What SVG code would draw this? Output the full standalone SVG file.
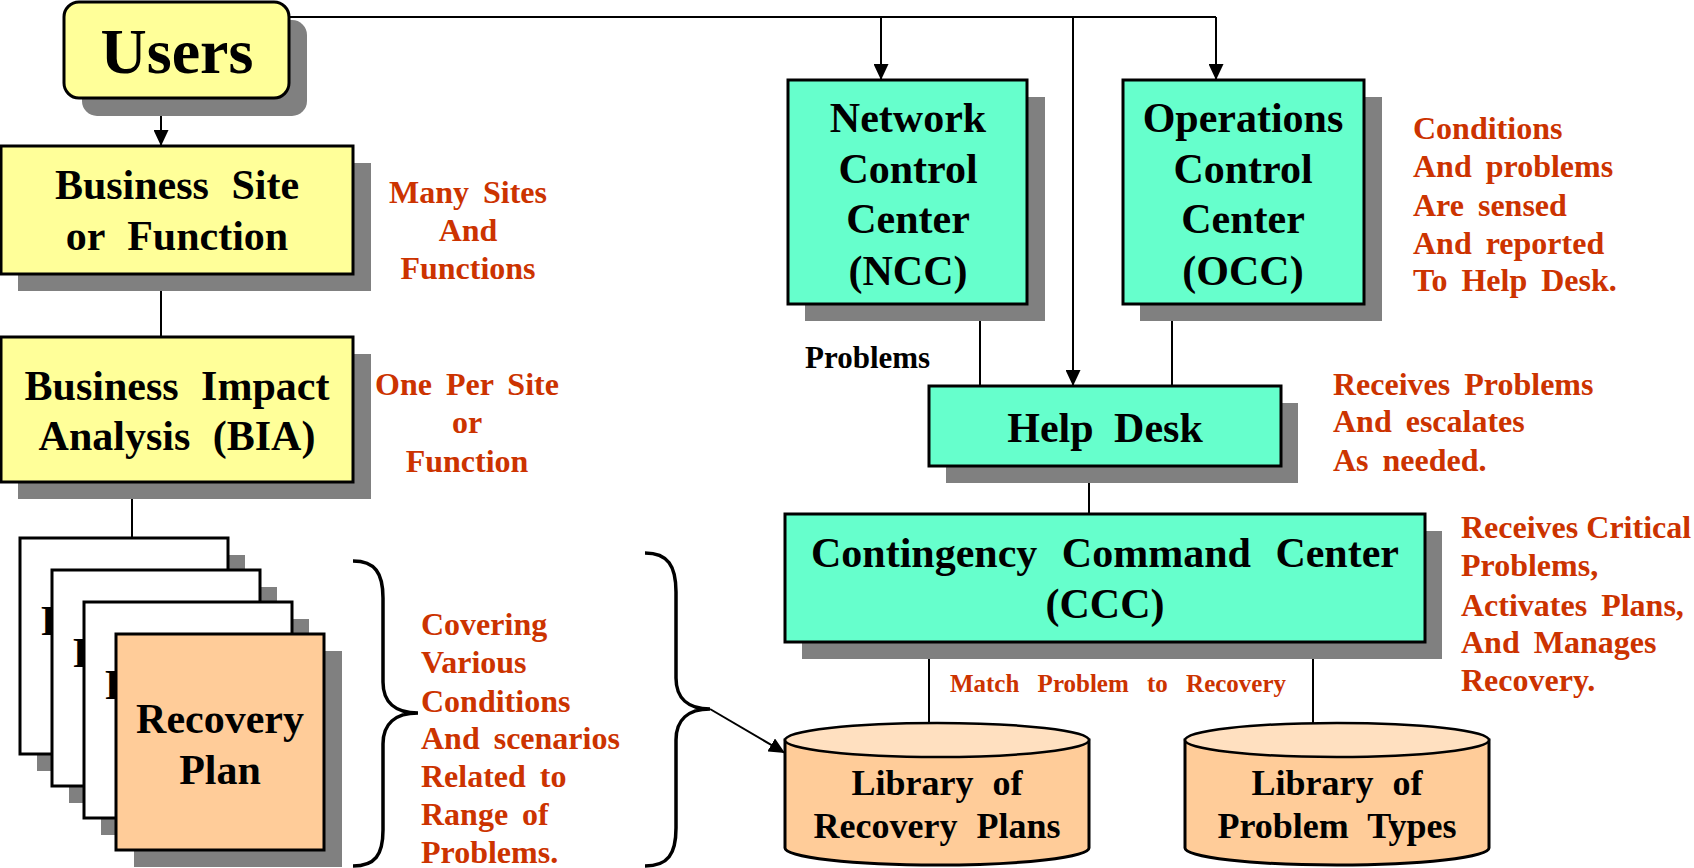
<svg xmlns="http://www.w3.org/2000/svg" width="1694" height="868" viewBox="0 0 1694 868">
<style>
.box{stroke:#000;stroke-width:3}
.shadow{fill:#808080}
.yellow{fill:#FFFF99}
.aqua{fill:#66FFCC}
.orange{fill:#FFCC99}
.white{fill:#FFFFFF}
.lbl{font-family:"Liberation Serif","Times New Roman",serif;font-weight:bold;fill:#000;text-anchor:middle}
.red{font-family:"Liberation Serif","Times New Roman",serif;font-weight:bold;fill:#CC3300;font-size:32px;word-spacing:6px}
.line{stroke:#000;stroke-width:2;fill:none}
.brace{stroke:#000;stroke-width:3.5;fill:none}
</style>
<defs>
<marker id="arr" viewBox="0 0 16 15" refX="16" refY="7.5" markerWidth="16" markerHeight="15" markerUnits="userSpaceOnUse" orient="auto">
<path d="M0,0 L16,7.5 L0,15 Z" fill="#000"/>
</marker>
</defs>
<rect width="1694" height="868" fill="#FFFFFF"/>

<g id="connectors">
<polyline class="line" points="289,17 1216,17"/>
<line class="line" x1="881" y1="17" x2="881" y2="80" marker-end="url(#arr)"/>
<line class="line" x1="1073" y1="17" x2="1073" y2="386" marker-end="url(#arr)"/>
<line class="line" x1="1216" y1="17" x2="1216" y2="80" marker-end="url(#arr)"/>
<line class="line" x1="161" y1="98" x2="161" y2="146" marker-end="url(#arr)"/>
<line class="line" x1="161" y1="274" x2="161" y2="337"/>
<line class="line" x1="132" y1="490" x2="132" y2="538"/>
<line class="line" x1="980" y1="304" x2="980" y2="386"/>
<line class="line" x1="1172" y1="304" x2="1172" y2="386"/>
<line class="line" x1="1089" y1="466" x2="1089" y2="514"/>
<line class="line" x1="929" y1="642" x2="929" y2="723"/>
<line class="line" x1="1313" y1="642" x2="1313" y2="723"/>
<line class="line" stroke-width="2.5" x1="710" y1="709" x2="785" y2="753" marker-end="url(#arr)"/>
</g>

<g id="users">
<rect class="shadow" x="82" y="20" width="225" height="96" rx="15"/>
<rect class="box yellow" x="64" y="2" width="225" height="96" rx="15"/>
<text class="lbl" x="177" y="73" font-size="64">Users</text>
</g>

<g id="business-site">
<rect class="shadow" x="18" y="163" width="353" height="128"/>
<rect class="box yellow" x="1" y="146" width="352" height="128"/>
<text class="lbl" x="177" y="199" font-size="42" word-spacing="12">Business Site</text>
<text class="lbl" x="177" y="250" font-size="42" word-spacing="12">or Function</text>
</g>
<g id="note-many-sites">
<text class="red" x="468" y="203" text-anchor="middle">Many Sites</text>
<text class="red" x="468" y="241" text-anchor="middle">And</text>
<text class="red" x="468" y="279" text-anchor="middle">Functions</text>
</g>

<g id="bia">
<rect class="shadow" x="18" y="354" width="353" height="145"/>
<rect class="box yellow" x="1" y="337" width="352" height="145"/>
<text class="lbl" x="177" y="400" font-size="42" word-spacing="12">Business Impact</text>
<text class="lbl" x="177" y="450" font-size="42" word-spacing="12">Analysis (BIA)</text>
</g>
<g id="note-one-per-site">
<text class="red" x="467" y="395" text-anchor="middle">One Per Site</text>
<text class="red" x="467" y="433" text-anchor="middle">or</text>
<text class="red" x="467" y="472" text-anchor="middle">Function</text>
</g>

<g id="recovery-plans">
<rect class="shadow" x="37" y="555" width="208" height="216"/>
<rect class="box white" x="20" y="538" width="208" height="216"/>
<text class="lbl" x="41" y="635" font-size="42" style="text-anchor:start">R</text>
<rect class="shadow" x="69" y="587" width="208" height="216"/>
<rect class="box white" x="52" y="570" width="208" height="216"/>
<text class="lbl" x="73" y="667" font-size="42" style="text-anchor:start">R</text>
<rect class="shadow" x="101" y="619" width="208" height="216"/>
<rect class="box white" x="84" y="602" width="208" height="216"/>
<text class="lbl" x="105" y="699" font-size="42" style="text-anchor:start">R</text>
<rect class="shadow" x="134" y="651" width="208" height="216"/>
<rect class="box orange" x="116" y="634" width="208" height="216"/>
<text class="lbl" x="220" y="733" font-size="42">Recovery</text>
<text class="lbl" x="220" y="784" font-size="42">Plan</text>
</g>

<g id="brace-left">
<path class="brace" d="M353,561 C375,561 383,573 383,598 L383,682 C383,702 395,713 418,713 C395,713 383,724 383,744 L383,830 C383,855 375,866 353,866"/>
</g>
<g id="note-covering">
<text class="red" x="421" y="635">Covering</text>
<text class="red" x="421" y="673">Various</text>
<text class="red" x="421" y="712">Conditions</text>
<text class="red" x="421" y="749">And scenarios</text>
<text class="red" x="421" y="787">Related to</text>
<text class="red" x="421" y="825">Range of</text>
<text class="red" x="421" y="863">Problems.</text>
</g>
<g id="brace-right">
<path class="brace" d="M645,553 C668,553 676,566 676,592 L676,678 C676,698 688,709 710,709 C688,709 676,720 676,740 L676,828 C676,854 668,866 645,866"/>
</g>

<g id="ncc">
<rect class="shadow" x="805" y="97" width="240" height="224"/>
<rect class="box aqua" x="788" y="80" width="239" height="224"/>
<text class="lbl" x="908" y="132" font-size="42">Network</text>
<text class="lbl" x="908" y="183" font-size="42">Control</text>
<text class="lbl" x="908" y="233" font-size="42">Center</text>
<text class="lbl" x="908" y="285" font-size="42">(NCC)</text>
</g>
<text class="lbl" x="805" y="368" font-size="31" style="text-anchor:start">Problems</text>

<g id="occ">
<rect class="shadow" x="1140" y="97" width="242" height="224"/>
<rect class="box aqua" x="1123" y="80" width="241" height="224"/>
<text class="lbl" x="1243" y="132" font-size="42">Operations</text>
<text class="lbl" x="1243" y="183" font-size="42">Control</text>
<text class="lbl" x="1243" y="233" font-size="42">Center</text>
<text class="lbl" x="1243" y="285" font-size="42">(OCC)</text>
</g>
<g id="note-conditions">
<text class="red" x="1413" y="139">Conditions</text>
<text class="red" x="1413" y="177">And problems</text>
<text class="red" x="1413" y="216">Are sensed</text>
<text class="red" x="1413" y="254">And reported</text>
<text class="red" x="1413" y="291">To Help Desk.</text>
</g>

<g id="help-desk">
<rect class="shadow" x="946" y="403" width="352" height="80"/>
<rect class="box aqua" x="929" y="386" width="352" height="80"/>
<text class="lbl" x="1105" y="442" font-size="42" word-spacing="10">Help Desk</text>
</g>
<g id="note-help-desk">
<text class="red" x="1333" y="395">Receives Problems</text>
<text class="red" x="1333" y="432">And escalates</text>
<text class="red" x="1333" y="471">As needed.</text>
</g>

<g id="ccc">
<rect class="shadow" x="802" y="531" width="640" height="128"/>
<rect class="box aqua" x="785" y="514" width="640" height="128"/>
<text class="lbl" x="1105" y="567" font-size="42" word-spacing="14">Contingency Command Center</text>
<text class="lbl" x="1105" y="618" font-size="42">(CCC)</text>
</g>
<g id="note-ccc">
<text class="red" x="1461" y="538" style="word-spacing:0px">Receives Critical</text>
<text class="red" x="1461" y="576">Problems,</text>
<text class="red" x="1461" y="616">Activates Plans,</text>
<text class="red" x="1461" y="653">And Manages</text>
<text class="red" x="1461" y="691">Recovery.</text>
</g>
<text class="red" x="1118" y="692" text-anchor="middle" style="font-size:25px;word-spacing:12px">Match Problem to Recovery</text>

<g id="lib-recovery-plans">
<path class="box orange" stroke-width="2.5" d="M785,740 L785,848 A152,17 0 0 0 1089,848 L1089,740 Z"/>
<ellipse cx="937" cy="740" rx="152" ry="17" fill="#FFE0C0" stroke="#000" stroke-width="2.5"/>
<text class="lbl" x="937" y="795" font-size="36" word-spacing="10">Library of</text>
<text class="lbl" x="937" y="838" font-size="36" word-spacing="10">Recovery Plans</text>
</g>

<g id="lib-problem-types">
<path class="box orange" stroke-width="2.5" d="M1185,740 L1185,848 A152,17 0 0 0 1489,848 L1489,740 Z"/>
<ellipse cx="1337" cy="740" rx="152" ry="17" fill="#FFE0C0" stroke="#000" stroke-width="2.5"/>
<text class="lbl" x="1337" y="795" font-size="36" word-spacing="10">Library of</text>
<text class="lbl" x="1337" y="838" font-size="36" word-spacing="10">Problem Types</text>
</g>
</svg>
